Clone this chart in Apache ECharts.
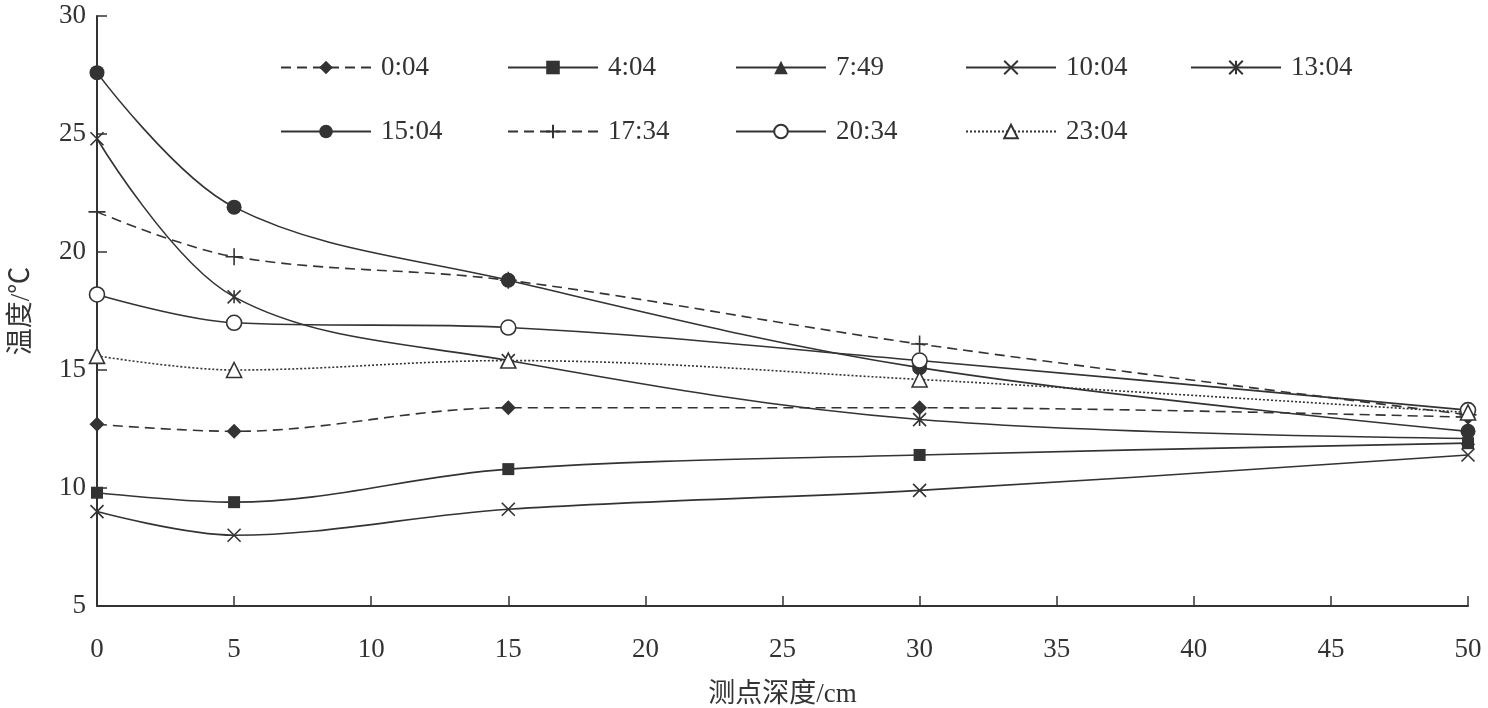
<!DOCTYPE html>
<html><head><meta charset="utf-8">
<script src="https://cdn.jsdelivr.net/npm/echarts@6/dist/echarts.min.js"></script>
<style>html,body{margin:0;padding:0;background:#fff}#c{width:1488px;height:708px}</style>
</head><body><div id="c"></div>
<script>
const depths = [0, 5, 15, 30, 50];
const seriesNames = ['0:04','4:04','7:49','10:04','13:04','15:04','17:34','20:34','23:04'];
const t0004 = [12.7, 12.4, 13.4, 13.4, 13.0];
const t0404 = [9.8, 9.4, 10.8, 11.4, 11.9];
const t0749 = [];
const t1004 = [9.0, 8.0, 9.1, 9.9, 11.4];
const t1304 = [24.8, 18.1, 15.4, 12.9, 12.1];
const t1504 = [27.6, 21.9, 18.8, 15.1, 12.4];
const t1734 = [21.7, 19.8, 18.8, 16.1, 13.1];
const t2034 = [18.2, 17.0, 16.8, 15.4, 13.3];
const t2304 = [15.6, 15.0, 15.4, 14.6, 13.2];
const xTicks = [0, 50, 5];
const yTicks = [5, 30, 5];

const C = '#333';
const FONT = '"Liberation Serif","Noto Sans CJK SC",serif';
const FS = 27;
const X_PATH = 'path://M0,0L20,20M20,0L0,20';
const STAR_PATH = 'path://M0,0L20,20M20,0L0,20M10,0L10,20';
const PLUS_PATH = 'path://M10,0L10,20M0,10L20,10';

function pts(vals){ return vals.map((v,i)=>[depths[i], v]); }

const styles = {
  '0:04': {data:t0004, symbol:'diamond', size:15, fill:C, dash:[10,6]},
  '4:04': {data:t0404, symbol:'rect', size:12, fill:C, dash:'solid'},
  '7:49': {data:t0749, symbol:'triangle', size:13, fill:C, dash:'solid'},
  '10:04': {data:t1004, symbol:X_PATH, size:13, fill:'transparent', dash:'solid', border:true},
  '13:04': {data:t1304, symbol:STAR_PATH, size:13, fill:'transparent', dash:'solid', border:true},
  '15:04': {data:t1504, symbol:'circle', size:15, fill:C, dash:'solid'},
  '17:34': {data:t1734, symbol:PLUS_PATH, size:17, fill:'transparent', dash:[10,6], border:true},
  '20:34': {data:t2034, symbol:'circle', size:15, fill:'#fff', dash:'solid', border:true},
  '23:04': {data:t2304, symbol:'triangle', size:15, fill:'#fff', dash:[2,2], border:true}
};

const series = seriesNames.map(n => {
  const s = styles[n];
  return {
    name: n, type: 'line', data: pts(s.data), smooth: 0.35,
    symbol: s.symbol, symbolSize: s.size, showSymbol: true,
    lineStyle: {color: C, width: 1.6, type: s.dash},
    itemStyle: {color: s.fill, borderColor: C, borderWidth: s.border ? 1.6 : 0},
    emphasis: {disabled: true}, animation: false, z: 2
  };
});

const colX = [280, 507, 735, 965, 1190];
const rowY = [54, 118];
const legends = seriesNames.map((n, i) => ({
  data: [n], left: colX[i % 5], top: rowY[Math.floor(i / 5)],
  itemWidth: 90, itemHeight: 17, padding: 0,
  textStyle: {fontFamily: FONT, fontSize: FS, color: C, padding: [0, 0, 0, 5]},
  selectedMode: false
}));

const chart = echarts.init(document.getElementById('c'));
chart.setOption({
  backgroundColor: '#fff',
  animation: false,
  legend: legends,
  grid: {left: 97, right: 20, top: 16, bottom: 102, containLabel: false, outerBoundsMode: 'none'},
  xAxis: {
    type: 'value', min: xTicks[0], max: xTicks[1], interval: xTicks[2],
    name: '测点深度/cm', nameLocation: 'middle', nameGap: 75,
    nameTextStyle: {fontFamily: FONT, fontSize: FS, color: C},
    axisLine: {lineStyle: {color: C, width: 2}},
    axisTick: {inside: true, length: 10, lineStyle: {color: C, width: 1.5}},
    axisLabel: {fontFamily: FONT, fontSize: FS, color: C, margin: 30},
    splitLine: {show: false}
  },
  yAxis: {
    type: 'value', min: yTicks[0], max: yTicks[1], interval: yTicks[2],
    name: '温度/℃', nameLocation: 'middle', nameGap: 62, nameRotate: 90,
    nameTextStyle: {fontFamily: FONT, fontSize: FS, color: C},
    axisLine: {show: true, lineStyle: {color: C, width: 2}},
    axisTick: {show: true, inside: true, length: 10, lineStyle: {color: C, width: 1.5}},
    axisLabel: {fontFamily: FONT, fontSize: FS, color: C, margin: 11},
    splitLine: {show: false}
  },
  series: series
});
</script></body></html>
